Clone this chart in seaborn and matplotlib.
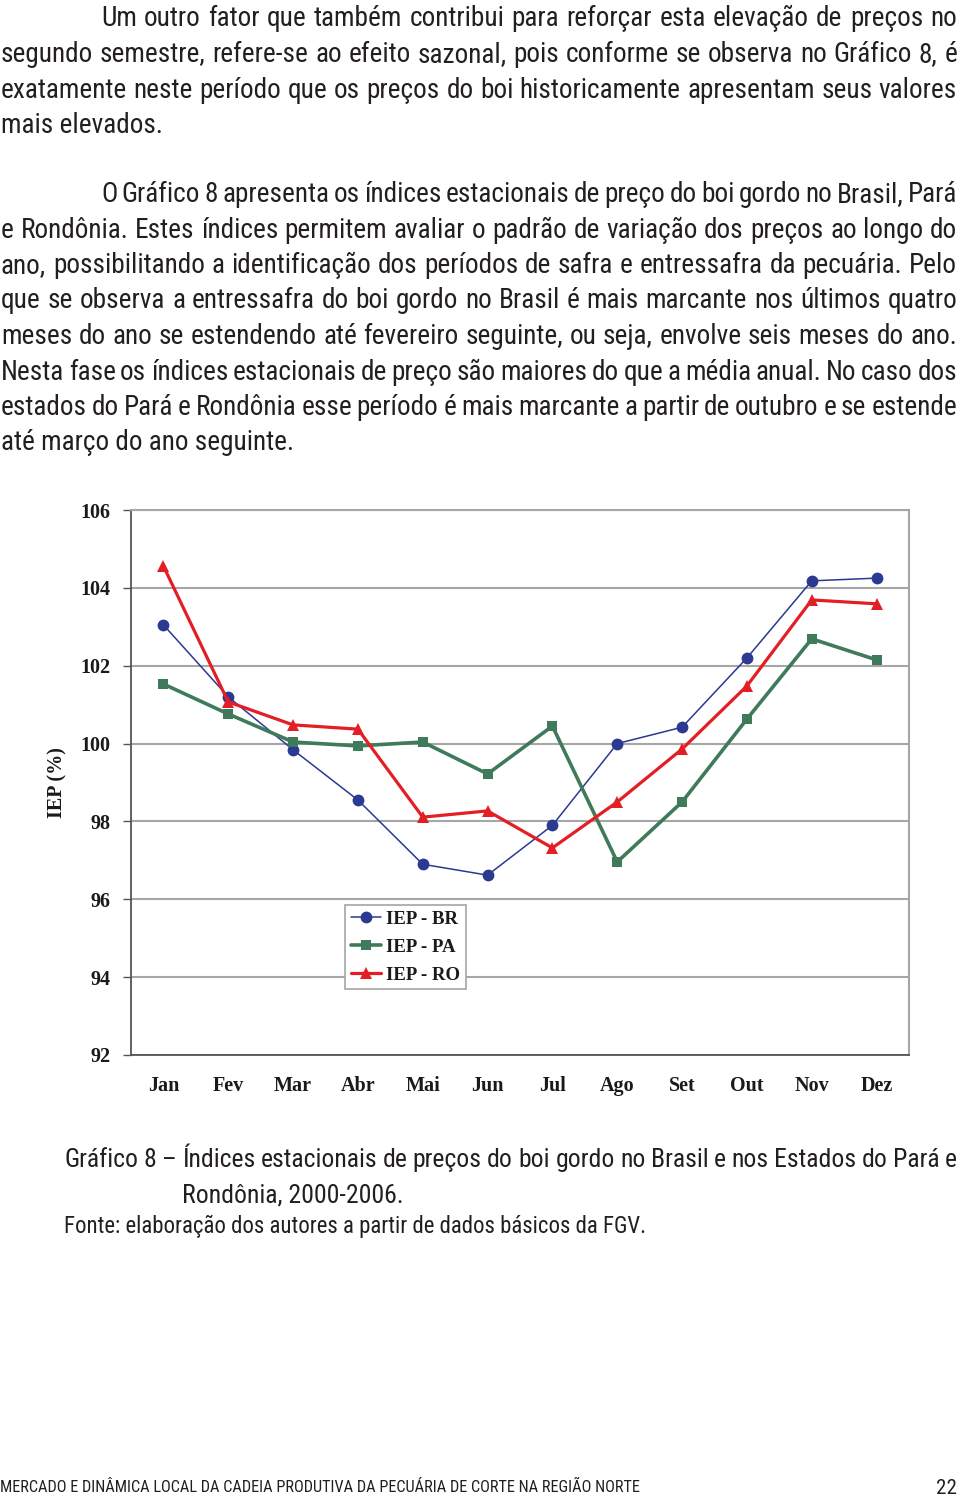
import numpy as np
import pandas as pd
import matplotlib
matplotlib.use('Agg')
import matplotlib.pyplot as plt
from matplotlib import font_manager as fm
import seaborn as sns

# ---------------- data ----------------
months = ['Jan', 'Fev', 'Mar', 'Abr', 'Mai', 'Jun', 'Jul', 'Ago', 'Set', 'Out', 'Nov', 'Dez']
iep_br = [103.05, 101.20, 99.84, 98.55, 96.90, 96.62, 97.90, 100.00, 100.42, 102.20, 104.18, 104.25]
iep_pa = [101.53, 100.76, 100.04, 99.94, 100.04, 99.22, 100.45, 96.96, 98.50, 100.63, 102.69, 102.15]
iep_ro = [104.56, 101.07, 100.48, 100.37, 98.11, 98.27, 97.32, 98.50, 99.86, 101.48, 103.69, 103.59]
series_names = ['IEP - BR', 'IEP - PA', 'IEP - RO']
y_ticks = [92, 94, 96, 98, 100, 102, 104, 106]
y_label = 'IEP (%)'

para1 = [
    "Um outro fator que também contribui para reforçar esta elevação de preços no",
    "segundo semestre, refere-se ao efeito sazonal, pois conforme se observa no Gráfico 8, é",
    "exatamente neste período que os preços do boi historicamente apresentam seus valores",
    "mais elevados.",
]
para2 = [
    "O Gráfico 8 apresenta os índices estacionais de preço do boi gordo no Brasil, Pará",
    "e Rondônia. Estes índices permitem avaliar o padrão de variação dos preços ao longo do",
    "ano, possibilitando a identificação dos períodos de safra e entressafra da pecuária. Pelo",
    "que se observa a entressafra do boi gordo no Brasil é mais marcante nos últimos quatro",
    "meses do ano se estendendo até fevereiro seguinte, ou seja, envolve seis meses do ano.",
    "Nesta fase os índices estacionais de preço são maiores do que a média anual. No caso dos",
    "estados do Pará e Rondônia esse período é mais marcante a partir de outubro e se estende",
    "até março do ano seguinte.",
]
caption = ["Gráfico 8 – Índices estacionais de preços do boi gordo no Brasil e nos Estados do Pará e",
           "Rondônia, 2000-2006."]
source = "Fonte: elaboração dos autores a partir de dados básicos da FGV."
footer = "MERCADO E DINÂMICA LOCAL DA CADEIA PRODUTIVA DA PECUÁRIA DE CORTE NA REGIÃO NORTE"
page_no = "22"

# ---------------- fonts ----------------
sns.set_theme(style='white')
plt.rcParams['font.family'] = ['Liberation Serif', 'DejaVu Serif']
SERIF = ['Liberation Serif', 'DejaVu Serif']
TXT = '#231F20'


def find_condensed_font():
    bad = ('bold', 'italic', 'oblique', 'light', 'medium', 'black', 'thin', 'semibold',
           'extrabold', 'heavy', 'mono', 'serif')
    prefs = ['open sans', 'noto sans', 'roboto', 'liberation sans', 'dejavu sans', '']
    cands = []
    for e in fm.fontManager.ttflist:
        name = e.name.lower()
        fname = e.fname.lower().split('/')[-1]
        narrow = ('condensed' in name or 'narrow' in name or 'condensed' in fname
                  or 'narrow' in fname or 'condensed' in str(e.stretch))
        if not narrow or 'semi' in fname or 'semi' in str(e.stretch):
            continue
        if e.style != 'normal':
            continue
        stem = fname.replace('condensed', '').replace('narrow', '')
        if any(b in stem for b in bad) or any(b in name.replace('sans', '') for b in ('serif', 'mono')):
            continue
        w = e.weight if isinstance(e.weight, int) else 400
        if abs(w - 400) > 50:
            continue
        rank = next(i for i, p in enumerate(prefs) if p in name)
        cands.append((rank, e.fname))
    if cands:
        cands.sort()
        return fm.FontProperties(fname=cands[0][1])
    return fm.FontProperties(family=['Liberation Sans', 'DejaVu Sans'])


BASE_FP = find_condensed_font()

W, H = 960, 1497
fig = plt.figure(figsize=(W / 100, H / 100), dpi=100)
fig.patch.set_facecolor('white')
renderer = fig.canvas.get_renderer()


def fp(size):
    p = BASE_FP.copy()
    p.set_size(size)
    return p


def fx(x):
    return x / W


def fy(y):
    return 1 - y / H


def width_of(s, size):
    t = fig.text(0, 0, s, fontproperties=fp(size))
    w = t.get_window_extent(renderer).width
    t.remove()
    return w


def fit_size(s, target_px, ref=20.0):
    return ref * target_px / width_of(s, ref)


def put(s, x, y, size, ha='left'):
    fig.text(fx(x), fy(y), s, fontproperties=fp(size), color=TXT, ha=ha, va='baseline')


def justify(s, x0, x1, y, size):
    words = s.split(' ')
    ws = [width_of(w, size) for w in words]
    gap = (x1 - x0 - sum(ws)) / (len(words) - 1)
    x = x0
    for w, wd in zip(words, ws):
        put(w, x, y, size)
        x += wd + gap


# body paragraphs
body_size = fit_size(para2[-1], 293)
for lines, ystart in ((para1, 26.5), (para2, 202.0)):
    for i, line in enumerate(lines):
        y = ystart + 35.5 * i
        x0 = 101 if i == 0 else 1
        if i == len(lines) - 1:
            put(line, x0, y, body_size)
        else:
            justify(line, x0, 957, y, body_size)

# caption
cap_size = fit_size(caption[1], 221)
justify(caption[0], 64, 957, 1167, cap_size)
put(caption[1], 182, 1202, cap_size)
src_size = fit_size(source, 579)
put(source, 64, 1233, src_size)

# footer
foot_size = fit_size(footer, 638)
put(footer, 0, 1492, foot_size)
put(page_no, 957, 1494, foot_size * 1.3, ha='right')

# ---------------- chart ----------------
ax = fig.add_axes([fx(131), fy(1055), 778 / W, 545 / H])
df = pd.DataFrame({
    'mes': months * 3,
    'x': list(range(len(months))) * 3,
    'iep': iep_br + iep_pa + iep_ro,
    'serie': [series_names[0]] * 12 + [series_names[1]] * 12 + [series_names[2]] * 12,
})
styles = {
    series_names[0]: dict(color='#2B3990', marker='o', lw=1.1, ms=8.5),
    series_names[1]: dict(color='#3F7B5A', marker='s', lw=2.6, ms=6.8),
    series_names[2]: dict(color='#E31E24', marker='^', lw=2.3, ms=8.0),
}
for name in series_names:
    st = styles[name]
    sub = df[df['serie'] == name]
    sns.lineplot(data=sub, x='x', y='iep', ax=ax, color=st['color'], marker=st['marker'],
                 linewidth=st['lw'], markersize=st['ms'], markeredgewidth=0,
                 label=name, zorder=3)

ax.set_xlim(-0.5, 11.5)
ax.set_ylim(92, 106)
ax.set_yticks(y_ticks)
ax.set_yticklabels([str(v) for v in y_ticks])
ax.set_xticks(range(len(months)))
ax.set_xticklabels(months)
ax.set_xticks(np.arange(-0.5, 12, 1), minor=True)
ax.tick_params(axis='x', which='major', length=0, pad=15)
ax.tick_params(axis='x', which='minor', length=6, width=1, color='#555555', direction='out')
ax.tick_params(axis='y', which='major', length=6, width=1, color='#555555', direction='out', pad=9, left=True)
for lab in ax.get_xticklabels() + ax.get_yticklabels():
    lab.set_fontfamily(SERIF)
    lab.set_fontweight('bold')
    lab.set_fontsize(14.5)
    lab.set_color('#1a1a1a')
ax.yaxis.grid(True, color='#A6A6A6', linewidth=1.5)
ax.xaxis.grid(False)
ax.set_axisbelow(True)
for side in ('top', 'right'):
    ax.spines[side].set_color('#A6A6A6')
    ax.spines[side].set_linewidth(1.5)
for side in ('left', 'bottom'):
    ax.spines[side].set_color('#555555')
    ax.spines[side].set_linewidth(1.3)
ax.set_xlabel('')
ax.set_ylabel(y_label, fontfamily=SERIF, fontweight='bold', fontsize=14.5, color='#1a1a1a')
ax.yaxis.set_label_coords((67 - 131) / 778, 0.5)

leg = ax.legend(loc='upper left', bbox_to_anchor=((345 - 131) / 778, (1055 - 905) / 545),
                frameon=True, fancybox=False, edgecolor='#A6A6A6', framealpha=1,
                prop={'family': SERIF, 'weight': 'bold', 'size': 13.5},
                handlelength=1.6, handletextpad=0.3, labelspacing=0.58, borderpad=0.3,
                borderaxespad=0)
leg.get_frame().set_linewidth(1.2)
for t in leg.get_texts():
    t.set_color('#1a1a1a')

fig.savefig('out.png', dpi=100, facecolor='white')
